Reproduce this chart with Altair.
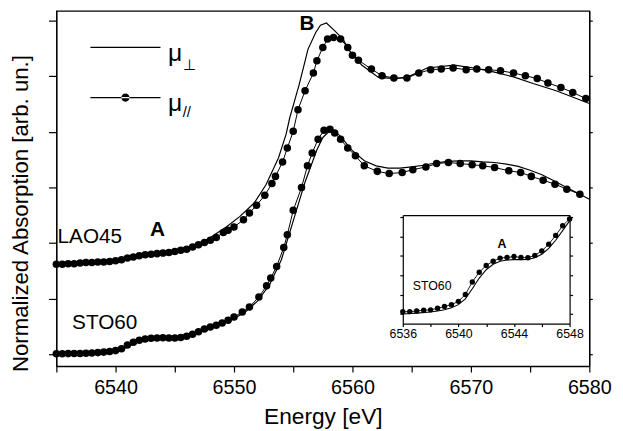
import altair as alt
import pandas as pd

FONT = "Liberation Sans"

# ---------------- data ----------------
# LAO45, mu_parallel (dots)
lao_dot_E = [6535, 6535.5, 6536, 6536.5, 6537, 6537.5, 6538, 6538.5, 6539, 6539.5,
             6540, 6540.5, 6541, 6541.5, 6542, 6542.5, 6543, 6543.5, 6544, 6544.5,
             6545, 6545.5, 6546, 6546.5, 6547, 6547.5, 6548, 6548.5, 6549.1, 6549.5,
             6550, 6550.8, 6551.3, 6551.9, 6552.6, 6553.2, 6553.5, 6554.1, 6554.5, 6555,
             6555.4, 6556, 6556.7, 6557, 6557.5, 6557.9, 6558.4, 6559, 6559.6, 6560,
             6560.5, 6561.6, 6562.5, 6563.5, 6564.6, 6565.6, 6566.6, 6567.5, 6568.5, 6569.6,
             6570.5, 6571.5, 6572.5, 6573.6, 6574.6, 6575.6, 6576.5, 6577.6, 6578.6, 6579.7]
lao_dot_V = [1.62, 1.62, 1.63, 1.63, 1.64, 1.65, 1.65, 1.66, 1.66, 1.67,
             1.68, 1.70, 1.73, 1.75, 1.77, 1.79, 1.80, 1.81, 1.82, 1.83,
             1.85, 1.87, 1.89, 1.93, 1.97, 2.01, 2.05, 2.10, 2.19, 2.23,
             2.29, 2.42, 2.54, 2.68, 2.86, 3.07, 3.20, 3.46, 3.71, 4.01,
             4.40, 4.74, 5.06, 5.28, 5.52, 5.67, 5.70, 5.67, 5.52, 5.38,
             5.29, 5.13, 5.01, 4.97, 4.97, 5.06, 5.12, 5.13, 5.15, 5.12,
             5.13, 5.12, 5.10, 5.06, 5.01, 4.96, 4.88, 4.80, 4.71, 4.60]

# LAO45, mu_perpendicular (solid)
lao_line_E = [6535, 6536, 6537, 6538, 6539, 6540, 6541, 6542, 6543, 6544,
              6545, 6546, 6547, 6548, 6549.4, 6550.5, 6551.7, 6552.7, 6553.75, 6554.4,
              6554.7, 6555.1, 6555.5, 6556.25, 6556.9, 6557.3, 6557.8, 6558.4, 6559.2, 6559.75,
              6560.8, 6562.2, 6563.6, 6564.7, 6566.3, 6568.6, 6570.25, 6571.9, 6573.6, 6575.25,
              6577.2, 6580]
lao_line_V = [1.61, 1.62, 1.63, 1.64, 1.65, 1.67, 1.72, 1.77, 1.80, 1.82,
              1.85, 1.90, 1.98, 2.10, 2.30, 2.48, 2.72, 3.05, 3.53, 3.96,
              4.25, 4.55, 4.85, 5.49, 5.79, 5.92, 5.96, 5.84, 5.67, 5.46,
              5.20, 4.98, 4.96, 4.99, 5.15, 5.20, 5.15, 5.08, 4.99, 4.87,
              4.74, 4.51]

# STO60, mu_parallel (dots)
sto_dot_E = [6535, 6535.5, 6536, 6536.5, 6537, 6537.5, 6538, 6538.5, 6539, 6539.5,
             6540, 6540.5, 6541, 6541.5, 6542, 6542.5, 6543, 6543.5, 6544, 6544.5,
             6545, 6545.5, 6546, 6546.5, 6547, 6547.5, 6548, 6548.5, 6549, 6549.5,
             6550, 6550.7, 6551.3, 6552.1, 6552.75, 6553.1, 6553.6, 6554.2, 6554.5, 6555,
             6555.7, 6556.2, 6556.6, 6557.1, 6557.6, 6558.1, 6558.5, 6559, 6559.6, 6560.25,
             6561, 6562.1, 6563.1, 6564.2, 6565.1, 6566.2, 6567.1, 6568.1, 6569.1, 6570.1,
             6571, 6572, 6573.2, 6574.2, 6575.1, 6576.1, 6577.1, 6578.1, 6579.2]
sto_dot_V = [0.010, 0.010, 0.011, 0.012, 0.015, 0.019, 0.021, 0.029, 0.038, 0.048,
             0.065, 0.100, 0.165, 0.215, 0.250, 0.272, 0.288, 0.291, 0.296, 0.291,
             0.290, 0.302, 0.325, 0.360, 0.405, 0.455, 0.490, 0.520, 0.560, 0.610,
             0.670, 0.760, 0.850, 1.030, 1.230, 1.370, 1.580, 1.920, 2.150, 2.590,
             3.000, 3.390, 3.620, 3.870, 4.030, 4.050, 3.980, 3.870, 3.710, 3.570,
             3.390, 3.290, 3.250, 3.270, 3.320, 3.370, 3.430, 3.450, 3.430, 3.410,
             3.390, 3.360, 3.300, 3.270, 3.200, 3.130, 3.060, 2.970, 2.880]

# STO60, mu_perpendicular (solid)
sto_line_E = [6535, 6536, 6537, 6538, 6538.5, 6539, 6539.5, 6540, 6540.5, 6541,
              6541.5, 6542, 6542.5, 6543, 6543.5, 6544, 6544.5, 6545, 6545.5, 6546,
              6546.5, 6547, 6547.5, 6548, 6548.5, 6549, 6550, 6551, 6552, 6553,
              6554, 6555, 6556, 6557, 6557.5, 6558, 6558.5, 6559, 6560, 6561,
              6562, 6563, 6564, 6565, 6566, 6567, 6568, 6569, 6570, 6571,
              6572, 6573, 6574, 6575, 6576, 6577, 6578, 6579, 6580]
sto_line_V = [0.000, 0.000, 0.004, 0.010, 0.015, 0.022, 0.032, 0.048, 0.078, 0.130,
              0.185, 0.228, 0.256, 0.272, 0.278, 0.280, 0.280, 0.281, 0.290, 0.308,
              0.338, 0.380, 0.430, 0.480, 0.510, 0.550, 0.640, 0.770, 0.960, 1.250,
              1.700, 2.400, 3.100, 3.680, 3.900, 4.000, 4.010, 3.920, 3.660, 3.480,
              3.390, 3.350, 3.350, 3.370, 3.400, 3.440, 3.470, 3.480, 3.480, 3.460,
              3.450, 3.420, 3.380, 3.310, 3.230, 3.120, 3.010, 2.900, 2.790]

# axes ticks
x_ticks = [6535, 6540, 6545, 6550, 6555, 6560, 6565, 6570, 6575, 6580]
y_ticks = [0, 1, 2, 3, 4, 5, 6]
inset_x_ticks = [6536, 6538, 6540, 6542, 6544, 6546, 6548]
inset_y_ticks = [0, 0.1, 0.2, 0.3, 0.4, 0.5]
inset_x_domain = [6536, 6548]
inset_y_domain = [-0.05, 0.51]

# legend entries
legend_names = ["μ⊥", "μ//"]

# annotation texts
main_labels = ["LAO45", "STO60"]
peak_labels = ["A", "B"]
sub_labels = ["⊥", "//"]
inset_labels = ["STO60"]
inset_peak = ["A"]

# annotation anchor positions (layout, in axis units)
main_label_pos = ([6535.1, 6536.33], [2.007, 0.462])
peak_label_pos = ([6543.54, 6556.17], [2.13, 5.83])
sub_label_pos = ([6545.67, 6545.67], [5.115, 4.26])
inset_label_pos = ([6536.71], [0.123])
inset_peak_pos = ([6543.14], [0.342])

# ---------------- frames ----------------
lao_dot = pd.DataFrame({"E": lao_dot_E, "V": lao_dot_V})
lao_line = pd.DataFrame({"E": lao_line_E, "V": lao_line_V})
sto_dot = pd.DataFrame({"E": sto_dot_E, "V": sto_dot_V})
sto_line = pd.DataFrame({"E": sto_line_E, "V": sto_line_V})
legend_df = pd.DataFrame({"pol": legend_names})


def text_df(labels, pos):
    return pd.DataFrame({"t": labels, "E": pos[0], "V": pos[1]})


# ---------------- scales / axes ----------------
x_main = alt.Scale(domain=[6535, 6580], nice=False, zero=False)
y_main = alt.Scale(domain=[-0.213, 6.18], nice=False, zero=False)
x_in = alt.Scale(domain=inset_x_domain, range=[351, 520], nice=False, zero=False)
y_in = alt.Scale(domain=inset_y_domain, range=[317, 207], nice=False, zero=False)

x_axis = alt.Axis(values=x_ticks, format="d", labelFlush=False, labelOverlap=False,
                  labelExpr="datum.value % 10 == 0 ? datum.label : ''",
                  tickSize=6, labelFontSize=20, labelPadding=6,
                  title="Energy [eV]", titleFontSize=23, titleX=270, titleY=58,
                  titleBaseline="alphabetic", titleAlign="center")
y_left = alt.Axis(values=y_ticks, labels=False, tickSize=8,
                  title="Normalized Absorption [arb. un.]", titleFontSize=22.5,
                  titleAngle=270, titleX=-29, titleY=205,
                  titleBaseline="alphabetic", titleAlign="center")
y_right = alt.Axis(orient="right", values=y_ticks, labels=False, tickSize=3, title=None)

in_x_bottom = alt.Axis(orient="bottom", offset=-43, values=inset_x_ticks, format="d",
                       labelFlush=False, labelOverlap=False,
                       labelExpr="datum.value % 4 == 0 ? datum.label : ''",
                       tickSize=3, labelFontSize=12.5, labelPadding=1, title=None)
in_y_left = alt.Axis(orient="left", offset=-351, values=inset_y_ticks, labels=False,
                     tickSize=3, title=None)
in_x_top = alt.Axis(orient="top", offset=-207, ticks=False, labels=False, title=None)
in_y_right = alt.Axis(orient="right", offset=-20, values=inset_y_ticks, labels=False,
                      tickSize=3, title=None)


def xy(xs, ys, ax=None, ay=None):
    return dict(x=alt.X("E:Q", scale=xs, axis=ax), y=alt.Y("V:Q", scale=ys, axis=ay))


# ---------------- main panel ----------------
lao_solid_l = alt.Chart(lao_line).mark_line(color="black", strokeWidth=1.2).encode(
    **xy(x_main, y_main, x_axis, y_left))
lao_dline_l = alt.Chart(lao_dot).mark_line(color="black", strokeWidth=1.0).encode(
    **xy(x_main, y_main, x_axis, y_right))
lao_dots_l = alt.Chart(lao_dot).mark_circle(color="black", size=58, opacity=1).encode(
    **xy(x_main, y_main, x_axis))
sto_solid_l = alt.Chart(sto_line).mark_line(color="black", strokeWidth=1.2).encode(
    **xy(x_main, y_main, x_axis))
sto_dline_l = alt.Chart(sto_dot).mark_line(color="black", strokeWidth=1.0).encode(
    **xy(x_main, y_main, x_axis))
sto_dots_l = alt.Chart(sto_dot).mark_circle(color="black", size=58, opacity=1).encode(
    **xy(x_main, y_main, x_axis))

txt_main = alt.Chart(text_df(main_labels, main_label_pos)).mark_text(
    align="left", baseline="alphabetic", font=FONT, fontSize=21, color="black").encode(
    text="t:N", **xy(x_main, y_main, x_axis))
txt_peak = alt.Chart(text_df(peak_labels, peak_label_pos)).mark_text(
    align="center", baseline="alphabetic", font=FONT, fontSize=21, fontWeight="bold",
    color="black").encode(text="t:N", **xy(x_main, y_main, x_axis))
txt_sub = alt.Chart(text_df(sub_labels, sub_label_pos)).mark_text(
    align="left", baseline="alphabetic", font=FONT, fontSize=15, color="black").encode(
    text="t:N", **xy(x_main, y_main, x_axis))

# legend symbols: a thin filled bar (the line) and, for mu_//, a filled dot on it
path_line = "M-4,-0.69H4V-0.55H-4Z"
path_dot = ("M-4,-0.69H4V-0.55H-4Z"
            "M-0.47,-0.62A0.47,0.47 0 1 0 0.47,-0.62A0.47,0.47 0 1 0 -0.47,-0.62Z")

legend_l = alt.Chart(legend_df).transform_filter("false").mark_point(
    filled=True, color="black", opacity=1).encode(
    shape=alt.Shape("pol:N",
                    scale=alt.Scale(domain=legend_names, range=[path_line, path_dot]),
                    legend=alt.Legend(title=None, orient="none", legendX=57.5, legendY=30,
                                      padding=0, symbolSize=315, symbolFillColor="black",
                                      symbolStrokeWidth=0,
                                      symbolOpacity=1, labelFont=FONT, labelFontSize=25,
                                      labelColor="black", labelOffset=30.5, rowPadding=25,
                                      labelExpr="'μ'")))

main = alt.layer(lao_solid_l, lao_dline_l, lao_dots_l, sto_solid_l, sto_dline_l, sto_dots_l,
                 txt_main, txt_peak, txt_sub, legend_l).resolve_axis(y="independent")

# ---------------- inset ----------------
rng = alt.FieldRangePredicate(field="E", range=inset_x_domain)
in_solid = alt.Chart(sto_line).transform_filter(rng).mark_line(
    color="black", strokeWidth=1.1).encode(**xy(x_in, y_in, in_x_bottom, in_y_left))
in_dline = alt.Chart(sto_dot).transform_filter(rng).mark_line(
    color="black", strokeWidth=0.9).encode(**xy(x_in, y_in, in_x_top, in_y_right))
in_dots = alt.Chart(sto_dot).transform_filter(rng).mark_circle(
    color="black", size=30, opacity=1).encode(**xy(x_in, y_in))
in_txt = alt.Chart(text_df(inset_labels, inset_label_pos)).mark_text(
    align="left", baseline="alphabetic", font=FONT, fontSize=12.5, color="black").encode(
    text="t:N", **xy(x_in, y_in))
in_peak = alt.Chart(text_df(inset_peak, inset_peak_pos)).mark_text(
    align="center", baseline="alphabetic", font=FONT, fontSize=12.5, fontWeight="bold",
    color="black").encode(text="t:N", **xy(x_in, y_in))

inset = alt.layer(in_solid, in_dline, in_dots, in_txt, in_peak).resolve_axis(
    x="independent", y="independent")

chart = alt.layer(main, inset).resolve_scale(x="independent", y="independent").properties(
    width=540, height=360,
    autosize=alt.AutoSizeParams(type="none"),
    padding={"left": 49, "top": 0, "right": 26, "bottom": 63},
    background="white",
).configure_view(stroke="black", strokeWidth=1.2).configure_axis(
    grid=False, domainColor="black", tickColor="black", labelColor="black",
    titleColor="black", domainWidth=1.2, tickWidth=1.2, labelFont=FONT, titleFont=FONT,
    titleFontWeight="normal")

chart.save("out.html", embed_options={"renderer": "svg", "actions": False})
